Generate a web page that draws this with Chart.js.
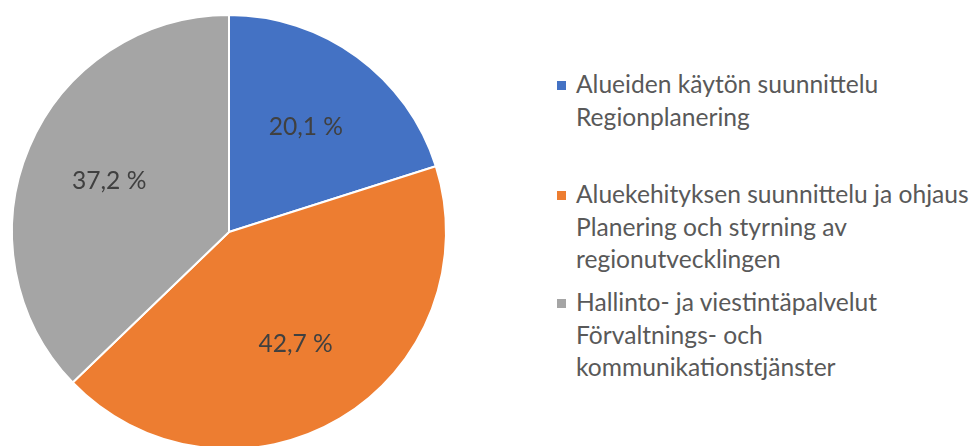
<!DOCTYPE html>
<html>
<head>
<meta charset="utf-8">
<script src="https://cdn.jsdelivr.net/npm/chart.js@4"></script>
<style>
  html, body { margin: 0; padding: 0; background: #fff; overflow: hidden; }
  #wrap { position: relative; width: 973px; height: 446px; }
  #pieBox { position: absolute; left: 0; top: 0; width: 458px; height: 464px; }
  #legend { position: absolute; left: 0; top: 0; font-family: Lato, "Open Sans", sans-serif; color: #595959; }
  .item { position: absolute; left: 557px; white-space: nowrap; }
  .sq { position: absolute; left: 0; width: 9px; height: 9px; }
  .txt { position: absolute; left: 19px; font-size: 24.6px; line-height: 32.5px; }
</style>
</head>
<body>
<div id="wrap">
  <div id="pieBox"><canvas id="pie"></canvas></div>
  <div id="legend"></div>
</div>
<script>
const labels = [
  ["Alueiden käytön suunnittelu", "Regionplanering"],
  ["Aluekehityksen suunnittelu ja ohjaus", "Planering och styrning av", "regionutvecklingen"],
  ["Hallinto- ja viestintäpalvelut", "Förvaltnings- och", "kommunikationstjänster"],
];
const shares = [20.1, 42.7, 37.2];
const colors = ["#4472c4", "#ed7d31", "#a5a5a5"];

// legend, built by hand because the labels wrap over several lines
const legendTops = [68, 178, 286];
const legendEl = document.getElementById("legend");
labels.forEach((lines, i) => {
  const item = document.createElement("div");
  item.className = "item";
  item.style.top = legendTops[i] + "px";
  const sq = document.createElement("div");
  sq.className = "sq";
  sq.style.background = colors[i];
  sq.style.top = "13px";
  const txt = document.createElement("div");
  txt.className = "txt";
  txt.innerHTML = lines.join("<br>");
  item.appendChild(sq);
  item.appendChild(txt);
  legendEl.appendChild(item);
});

// percentage labels inside the slices
const sliceLabels = {
  id: "sliceLabels",
  afterDatasetsDraw(chart) {
    const ctx = chart.ctx;
    const meta = chart.getDatasetMeta(0);
    ctx.save();
    ctx.font = "24.6px Lato, 'Open Sans', sans-serif";
    ctx.fillStyle = "#404040";
    ctx.textAlign = "center";
    ctx.textBaseline = "middle";
    meta.data.forEach((arc, i) => {
      const p = arc.getProps(["x", "y", "startAngle", "endAngle", "outerRadius"], true);
      const mid = (p.startAngle + p.endAngle) / 2;
      const r = p.outerRadius * 0.6;
      const text = shares[i].toFixed(1).replace(".", ",") + " %";
      ctx.fillText(text, p.x + Math.cos(mid) * r, p.y + Math.sin(mid) * r);
    });
    ctx.restore();
  },
};

new Chart(document.getElementById("pie"), {
  type: "pie",
  data: {
    labels: labels,
    datasets: [{
      data: shares,
      backgroundColor: colors,
      borderColor: "#ffffff",
      borderWidth: 2,
    }],
  },
  options: {
    responsive: true,
    maintainAspectRatio: false,
    animation: false,
    layout: { padding: { left: 11, right: 11, top: 14, bottom: 14 } },
    plugins: {
      legend: { display: false },
      tooltip: { enabled: false },
    },
  },
  plugins: [sliceLabels],
});
</script>
</body>
</html>
